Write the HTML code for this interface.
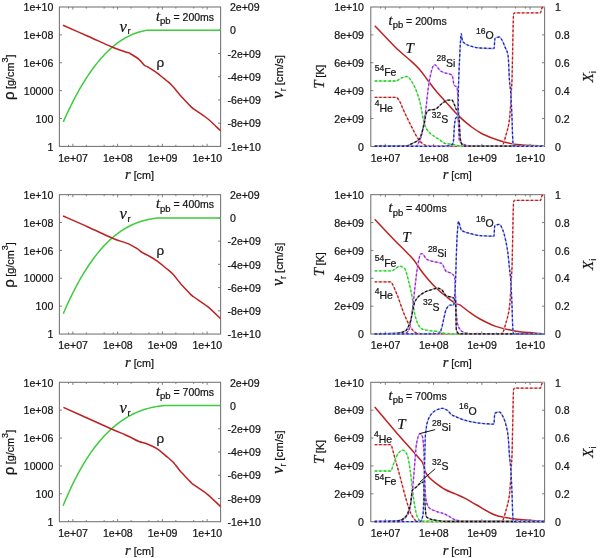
<!DOCTYPE html>
<html><head><meta charset="utf-8"><style>
html,body{margin:0;padding:0;background:#fff;}
svg{display:block;}
#wrap{will-change:transform;width:600px;height:558px;background:#fff;}
text{stroke:#151515;stroke-width:0.22px;}
</style></head><body><div id="wrap">
<svg width="600" height="558" viewBox="0 0 600 558">
<g>
<rect width="600" height="558" fill="#fff"/>
<rect x="59.40" y="7.00" width="161.20" height="139.40" fill="none" stroke="#727272" stroke-width="1.05"/>
<path d="M68.53,146.40v-1.6M68.53,7.00v1.6" stroke="#727272" stroke-width="0.9"/>
<path d="M72.87,146.40v-2.6M72.87,7.00v2.6" stroke="#727272" stroke-width="0.9"/>
<path d="M86.34,146.40v-1.6M86.34,7.00v1.6" stroke="#727272" stroke-width="0.9"/>
<path d="M104.15,146.40v-1.6M104.15,7.00v1.6" stroke="#727272" stroke-width="0.9"/>
<path d="M113.29,146.40v-1.6M113.29,7.00v1.6" stroke="#727272" stroke-width="0.9"/>
<path d="M117.62,146.40v-2.6M117.62,7.00v2.6" stroke="#727272" stroke-width="0.9"/>
<path d="M131.10,146.40v-1.6M131.10,7.00v1.6" stroke="#727272" stroke-width="0.9"/>
<path d="M148.90,146.40v-1.6M148.90,7.00v1.6" stroke="#727272" stroke-width="0.9"/>
<path d="M158.04,146.40v-1.6M158.04,7.00v1.6" stroke="#727272" stroke-width="0.9"/>
<path d="M162.38,146.40v-2.6M162.38,7.00v2.6" stroke="#727272" stroke-width="0.9"/>
<path d="M175.85,146.40v-1.6M175.85,7.00v1.6" stroke="#727272" stroke-width="0.9"/>
<path d="M193.66,146.40v-1.6M193.66,7.00v1.6" stroke="#727272" stroke-width="0.9"/>
<path d="M202.79,146.40v-1.6M202.79,7.00v1.6" stroke="#727272" stroke-width="0.9"/>
<path d="M207.13,146.40v-2.6M207.13,7.00v2.6" stroke="#727272" stroke-width="0.9"/>
<path d="M59.40,34.88h2.6" stroke="#727272" stroke-width="0.9"/>
<path d="M59.40,62.76h2.6" stroke="#727272" stroke-width="0.9"/>
<path d="M59.40,90.64h2.6" stroke="#727272" stroke-width="0.9"/>
<path d="M59.40,118.52h2.6" stroke="#727272" stroke-width="0.9"/>
<path d="M220.60,30.23h-2.6" stroke="#727272" stroke-width="0.9"/>
<path d="M220.60,53.47h-2.6" stroke="#727272" stroke-width="0.9"/>
<path d="M220.60,76.70h-2.6" stroke="#727272" stroke-width="0.9"/>
<path d="M220.60,99.93h-2.6" stroke="#727272" stroke-width="0.9"/>
<path d="M220.60,123.17h-2.6" stroke="#727272" stroke-width="0.9"/>
<text x="53.30" y="11.20" font-size="10.6" text-anchor="end" font-family='"Liberation Sans", sans-serif' fill="#151515" >1e+10</text>
<text x="53.30" y="39.08" font-size="10.6" text-anchor="end" font-family='"Liberation Sans", sans-serif' fill="#151515" >1e+08</text>
<text x="53.30" y="66.96" font-size="10.6" text-anchor="end" font-family='"Liberation Sans", sans-serif' fill="#151515" >1e+06</text>
<text x="53.30" y="94.84" font-size="10.6" text-anchor="end" font-family='"Liberation Sans", sans-serif' fill="#151515" >10000</text>
<text x="53.30" y="122.72" font-size="10.6" text-anchor="end" font-family='"Liberation Sans", sans-serif' fill="#151515" >100</text>
<text x="53.30" y="150.60" font-size="10.6" text-anchor="end" font-family='"Liberation Sans", sans-serif' fill="#151515" >1</text>
<text x="229.90" y="11.20" font-size="10.6" text-anchor="start" font-family='"Liberation Sans", sans-serif' fill="#151515" >2e+09</text>
<text x="229.90" y="34.43" font-size="10.6" text-anchor="start" font-family='"Liberation Sans", sans-serif' fill="#151515" >0</text>
<text x="227.50" y="57.67" font-size="10.6" text-anchor="start" font-family='"Liberation Sans", sans-serif' fill="#151515" >-2e+09</text>
<text x="227.50" y="80.90" font-size="10.6" text-anchor="start" font-family='"Liberation Sans", sans-serif' fill="#151515" >-4e+09</text>
<text x="227.50" y="104.13" font-size="10.6" text-anchor="start" font-family='"Liberation Sans", sans-serif' fill="#151515" >-6e+09</text>
<text x="227.50" y="127.37" font-size="10.6" text-anchor="start" font-family='"Liberation Sans", sans-serif' fill="#151515" >-8e+09</text>
<text x="227.50" y="150.60" font-size="10.6" text-anchor="start" font-family='"Liberation Sans", sans-serif' fill="#151515" >-1e+10</text>
<text x="73.07" y="161.60" font-size="10.6" text-anchor="middle" font-family='"Liberation Sans", sans-serif' fill="#151515" >1e+07</text>
<text x="117.82" y="161.60" font-size="10.6" text-anchor="middle" font-family='"Liberation Sans", sans-serif' fill="#151515" >1e+08</text>
<text x="162.58" y="161.60" font-size="10.6" text-anchor="middle" font-family='"Liberation Sans", sans-serif' fill="#151515" >1e+09</text>
<text x="207.33" y="161.60" font-size="10.6" text-anchor="middle" font-family='"Liberation Sans", sans-serif' fill="#151515" >1e+10</text>
<text x="139.50" y="179.20" text-anchor="middle" fill="#151515"><tspan font-family='"Liberation Serif", serif' font-style="italic" font-size="14.5">r</tspan><tspan font-family='"Liberation Sans", sans-serif' font-size="10.8" dx="3">[cm]</tspan></text>
<path d="M63.30,121.90 L64.30,119.65 L65.30,117.42 L66.30,115.23 L67.30,113.08 L68.30,110.96 L69.30,108.87 L70.30,106.81 L71.30,104.79 L72.30,102.79 L73.30,100.83 L74.30,98.90 L75.30,97.01 L76.30,95.14 L77.30,93.31 L78.30,91.50 L79.30,89.73 L80.30,87.99 L81.30,86.28 L82.30,84.59 L83.30,82.94 L84.30,81.32 L85.30,79.73 L86.30,78.16 L87.30,76.63 L88.30,75.12 L89.30,73.65 L90.30,72.20 L91.30,70.78 L92.30,69.39 L93.30,68.03 L94.30,66.69 L95.30,65.38 L96.30,64.10 L97.30,62.85 L98.30,61.62 L99.30,60.42 L100.30,59.25 L101.30,58.10 L102.30,56.98 L103.30,55.88 L104.30,54.81 L105.30,53.77 L106.30,52.75 L107.30,51.75 L108.30,50.79 L109.30,49.84 L110.30,48.92 L111.30,48.02 L112.30,47.15 L113.30,46.31 L114.30,45.48 L115.30,44.68 L116.30,43.90 L117.30,43.15 L118.30,42.42 L119.30,41.71 L120.30,41.02 L121.30,40.36 L122.30,39.71 L123.30,39.09 L124.30,38.49 L125.30,37.92 L126.30,37.36 L127.30,36.83 L128.30,36.31 L129.30,35.82 L130.30,35.34 L131.30,34.89 L132.30,34.46 L133.30,34.04 L134.30,33.65 L135.30,33.27 L136.30,32.92 L137.30,32.58 L138.30,32.26 L139.30,31.96 L140.30,31.68 L141.30,31.42 L142.30,31.18 L143.30,30.95 L144.30,30.74 L145.30,30.55 L146.30,30.37 L147.30,30.25 L148.30,30.25 L149.30,30.25 L150.30,30.25 L151.30,30.25 L152.30,30.25 L153.30,30.25 L154.30,30.25 L155.30,30.25 L156.30,30.25 L157.30,30.25 L158.30,30.25 L159.30,30.25 L160.30,30.25 L161.30,30.25 L162.30,30.25 L163.30,30.25 L164.30,30.25 L165.30,30.25 L166.30,30.25 L167.30,30.25 L168.30,30.25 L169.30,30.25 L170.00,30.25 L220.60,30.25" fill="none" stroke="#3ccc3c" stroke-width="1.5"/>
<path d="M63.00,25.30 C67.17,27.12 79.75,32.55 88.00,36.20 C96.25,39.85 105.92,44.48 112.50,47.20 C119.08,49.92 124.58,51.45 127.50,52.50 C130.42,53.55 128.08,52.37 130.00,53.50 C131.92,54.63 136.62,57.35 139.00,59.30 C141.38,61.25 142.82,63.92 144.30,65.20 C145.78,66.48 145.80,65.73 147.90,67.00 C150.00,68.27 153.92,70.63 156.90,72.80 C159.88,74.97 163.37,77.97 165.80,80.00 C168.23,82.03 169.15,82.52 171.50,85.00 C173.85,87.48 178.15,92.87 179.90,94.90 C181.65,96.93 180.03,95.12 182.00,97.20 C183.97,99.28 189.53,105.30 191.70,107.40 C193.87,109.50 192.38,107.95 195.00,109.80 C197.62,111.65 203.13,115.00 207.40,118.50 C211.67,122.00 218.40,128.75 220.60,130.80" fill="none" stroke="#bd2222" stroke-width="1.5"/>
<text x="156.0" y="20.50" fill="#151515"><tspan font-family='"Liberation Serif", serif' font-style="italic" font-size="14.5">t</tspan><tspan font-family='"Liberation Sans", sans-serif' font-size="9.5" dy="3.4">pb</tspan><tspan font-family='"Liberation Sans", sans-serif' font-size="10.5" dy="-3.4"> = 200ms</tspan></text>
<text x="119.6" y="31.50" fill="#151515"><tspan font-family='"Liberation Serif", serif' font-style="italic" font-size="16.5">v</tspan><tspan font-family='"Liberation Sans", sans-serif' font-size="9.5" dy="2.6" dx="0.6">r</tspan></text>
<text x="156.4" y="67.20" fill="#151515" font-family='"Liberation Sans", sans-serif' font-size="13.5">ρ</text>
<text transform="translate(13.8,77.30) rotate(-90)" text-anchor="middle" fill="#151515"><tspan font-family='"Liberation Sans", sans-serif' font-size="15">ρ</tspan><tspan font-family='"Liberation Sans", sans-serif' font-size="10.8" dx="2.5">[g/cm</tspan><tspan font-family='"Liberation Sans", sans-serif' font-size="9" dy="-5.5">3</tspan><tspan font-family='"Liberation Sans", sans-serif' font-size="10.8" dy="5.5">]</tspan></text>
<text transform="translate(283.4,76.70) rotate(-90)" text-anchor="middle" fill="#151515"><tspan font-family='"Liberation Serif", serif' font-style="italic" font-size="16">v</tspan><tspan font-family='"Liberation Sans", sans-serif' font-size="9.5" dy="2.6">r</tspan><tspan font-family='"Liberation Sans", sans-serif' font-size="11.4" dy="-2.6" dx="2.8">[cm/s]</tspan></text>
<rect x="59.40" y="194.65" width="161.20" height="139.40" fill="none" stroke="#727272" stroke-width="1.05"/>
<path d="M68.53,334.05v-1.6M68.53,194.65v1.6" stroke="#727272" stroke-width="0.9"/>
<path d="M72.87,334.05v-2.6M72.87,194.65v2.6" stroke="#727272" stroke-width="0.9"/>
<path d="M86.34,334.05v-1.6M86.34,194.65v1.6" stroke="#727272" stroke-width="0.9"/>
<path d="M104.15,334.05v-1.6M104.15,194.65v1.6" stroke="#727272" stroke-width="0.9"/>
<path d="M113.29,334.05v-1.6M113.29,194.65v1.6" stroke="#727272" stroke-width="0.9"/>
<path d="M117.62,334.05v-2.6M117.62,194.65v2.6" stroke="#727272" stroke-width="0.9"/>
<path d="M131.10,334.05v-1.6M131.10,194.65v1.6" stroke="#727272" stroke-width="0.9"/>
<path d="M148.90,334.05v-1.6M148.90,194.65v1.6" stroke="#727272" stroke-width="0.9"/>
<path d="M158.04,334.05v-1.6M158.04,194.65v1.6" stroke="#727272" stroke-width="0.9"/>
<path d="M162.38,334.05v-2.6M162.38,194.65v2.6" stroke="#727272" stroke-width="0.9"/>
<path d="M175.85,334.05v-1.6M175.85,194.65v1.6" stroke="#727272" stroke-width="0.9"/>
<path d="M193.66,334.05v-1.6M193.66,194.65v1.6" stroke="#727272" stroke-width="0.9"/>
<path d="M202.79,334.05v-1.6M202.79,194.65v1.6" stroke="#727272" stroke-width="0.9"/>
<path d="M207.13,334.05v-2.6M207.13,194.65v2.6" stroke="#727272" stroke-width="0.9"/>
<path d="M59.40,222.53h2.6" stroke="#727272" stroke-width="0.9"/>
<path d="M59.40,250.41h2.6" stroke="#727272" stroke-width="0.9"/>
<path d="M59.40,278.29h2.6" stroke="#727272" stroke-width="0.9"/>
<path d="M59.40,306.17h2.6" stroke="#727272" stroke-width="0.9"/>
<path d="M220.60,217.88h-2.6" stroke="#727272" stroke-width="0.9"/>
<path d="M220.60,241.12h-2.6" stroke="#727272" stroke-width="0.9"/>
<path d="M220.60,264.35h-2.6" stroke="#727272" stroke-width="0.9"/>
<path d="M220.60,287.58h-2.6" stroke="#727272" stroke-width="0.9"/>
<path d="M220.60,310.82h-2.6" stroke="#727272" stroke-width="0.9"/>
<text x="53.30" y="198.85" font-size="10.6" text-anchor="end" font-family='"Liberation Sans", sans-serif' fill="#151515" >1e+10</text>
<text x="53.30" y="226.73" font-size="10.6" text-anchor="end" font-family='"Liberation Sans", sans-serif' fill="#151515" >1e+08</text>
<text x="53.30" y="254.61" font-size="10.6" text-anchor="end" font-family='"Liberation Sans", sans-serif' fill="#151515" >1e+06</text>
<text x="53.30" y="282.49" font-size="10.6" text-anchor="end" font-family='"Liberation Sans", sans-serif' fill="#151515" >10000</text>
<text x="53.30" y="310.37" font-size="10.6" text-anchor="end" font-family='"Liberation Sans", sans-serif' fill="#151515" >100</text>
<text x="53.30" y="338.25" font-size="10.6" text-anchor="end" font-family='"Liberation Sans", sans-serif' fill="#151515" >1</text>
<text x="229.90" y="198.85" font-size="10.6" text-anchor="start" font-family='"Liberation Sans", sans-serif' fill="#151515" >2e+09</text>
<text x="229.90" y="222.08" font-size="10.6" text-anchor="start" font-family='"Liberation Sans", sans-serif' fill="#151515" >0</text>
<text x="227.50" y="245.32" font-size="10.6" text-anchor="start" font-family='"Liberation Sans", sans-serif' fill="#151515" >-2e+09</text>
<text x="227.50" y="268.55" font-size="10.6" text-anchor="start" font-family='"Liberation Sans", sans-serif' fill="#151515" >-4e+09</text>
<text x="227.50" y="291.78" font-size="10.6" text-anchor="start" font-family='"Liberation Sans", sans-serif' fill="#151515" >-6e+09</text>
<text x="227.50" y="315.02" font-size="10.6" text-anchor="start" font-family='"Liberation Sans", sans-serif' fill="#151515" >-8e+09</text>
<text x="227.50" y="338.25" font-size="10.6" text-anchor="start" font-family='"Liberation Sans", sans-serif' fill="#151515" >-1e+10</text>
<text x="73.07" y="349.25" font-size="10.6" text-anchor="middle" font-family='"Liberation Sans", sans-serif' fill="#151515" >1e+07</text>
<text x="117.82" y="349.25" font-size="10.6" text-anchor="middle" font-family='"Liberation Sans", sans-serif' fill="#151515" >1e+08</text>
<text x="162.58" y="349.25" font-size="10.6" text-anchor="middle" font-family='"Liberation Sans", sans-serif' fill="#151515" >1e+09</text>
<text x="207.33" y="349.25" font-size="10.6" text-anchor="middle" font-family='"Liberation Sans", sans-serif' fill="#151515" >1e+10</text>
<text x="139.50" y="366.85" text-anchor="middle" fill="#151515"><tspan font-family='"Liberation Serif", serif' font-style="italic" font-size="14.5">r</tspan><tspan font-family='"Liberation Sans", sans-serif' font-size="10.8" dx="3">[cm]</tspan></text>
<path d="M63.30,313.62 L64.30,311.30 L65.30,309.02 L66.30,306.77 L67.30,304.56 L68.30,302.39 L69.30,300.25 L70.30,298.14 L71.30,296.08 L72.30,294.04 L73.30,292.04 L74.30,290.08 L75.30,288.14 L76.30,286.25 L77.30,284.38 L78.30,282.55 L79.30,280.75 L80.30,278.98 L81.30,277.24 L82.30,275.54 L83.30,273.87 L84.30,272.23 L85.30,270.62 L86.30,269.04 L87.30,267.49 L88.30,265.97 L89.30,264.48 L90.30,263.02 L91.30,261.59 L92.30,260.19 L93.30,258.81 L94.30,257.47 L95.30,256.15 L96.30,254.87 L97.30,253.61 L98.30,252.37 L99.30,251.17 L100.30,249.99 L101.30,248.84 L102.30,247.71 L103.30,246.61 L104.30,245.53 L105.30,244.48 L106.30,243.46 L107.30,242.46 L108.30,241.49 L109.30,240.53 L110.30,239.61 L111.30,238.71 L112.30,237.83 L113.30,236.97 L114.30,236.14 L115.30,235.33 L116.30,234.54 L117.30,233.77 L118.30,233.03 L119.30,232.31 L120.30,231.61 L121.30,230.93 L122.30,230.27 L123.30,229.63 L124.30,229.01 L125.30,228.41 L126.30,227.83 L127.30,227.27 L128.30,226.73 L129.30,226.21 L130.30,225.70 L131.30,225.22 L132.30,224.75 L133.30,224.30 L134.30,223.87 L135.30,223.45 L136.30,223.05 L137.30,222.67 L138.30,222.31 L139.30,221.96 L140.30,221.62 L141.30,221.31 L142.30,221.00 L143.30,220.71 L144.30,220.44 L145.30,220.18 L146.30,219.94 L147.30,219.70 L148.30,219.49 L149.30,219.28 L150.30,219.09 L151.30,218.91 L152.30,218.75 L153.30,218.59 L154.30,218.45 L155.30,218.32 L156.30,218.20 L157.30,218.09 L158.30,217.99 L159.30,217.91 L160.30,217.90 L161.30,217.90 L162.30,217.90 L163.30,217.90 L164.30,217.90 L165.30,217.90 L166.30,217.90 L167.30,217.90 L168.30,217.90 L169.30,217.90 L170.30,217.90 L171.30,217.90 L172.30,217.90 L173.30,217.90 L174.30,217.90 L175.00,217.90 L220.60,217.90" fill="none" stroke="#3ccc3c" stroke-width="1.5"/>
<path d="M63.00,216.00 C67.17,217.82 79.75,223.25 88.00,226.95 C96.25,230.65 106.33,235.58 112.50,238.20 C118.67,240.82 122.08,241.58 125.00,242.65 C127.92,243.72 127.97,243.59 130.00,244.60 C132.03,245.61 135.12,247.35 137.20,248.70 C139.28,250.05 140.72,251.58 142.50,252.70 C144.28,253.82 145.50,254.05 147.90,255.40 C150.30,256.75 153.92,258.70 156.90,260.80 C159.88,262.90 163.12,265.76 165.80,268.00 C168.48,270.24 170.65,271.77 173.00,274.25 C175.35,276.73 178.40,281.03 179.90,282.85 C181.40,284.67 180.03,283.07 182.00,285.15 C183.97,287.23 189.53,293.25 191.70,295.35 C193.87,297.45 192.38,295.90 195.00,297.75 C197.62,299.60 203.13,302.95 207.40,306.45 C211.67,309.95 218.40,316.70 220.60,318.75" fill="none" stroke="#bd2222" stroke-width="1.5"/>
<text x="156.0" y="208.15" fill="#151515"><tspan font-family='"Liberation Serif", serif' font-style="italic" font-size="14.5">t</tspan><tspan font-family='"Liberation Sans", sans-serif' font-size="9.5" dy="3.4">pb</tspan><tspan font-family='"Liberation Sans", sans-serif' font-size="10.5" dy="-3.4"> = 400ms</tspan></text>
<text x="119.6" y="219.15" fill="#151515"><tspan font-family='"Liberation Serif", serif' font-style="italic" font-size="16.5">v</tspan><tspan font-family='"Liberation Sans", sans-serif' font-size="9.5" dy="2.6" dx="0.6">r</tspan></text>
<text x="156.4" y="254.85" fill="#151515" font-family='"Liberation Sans", sans-serif' font-size="13.5">ρ</text>
<text transform="translate(13.8,264.95) rotate(-90)" text-anchor="middle" fill="#151515"><tspan font-family='"Liberation Sans", sans-serif' font-size="15">ρ</tspan><tspan font-family='"Liberation Sans", sans-serif' font-size="10.8" dx="2.5">[g/cm</tspan><tspan font-family='"Liberation Sans", sans-serif' font-size="9" dy="-5.5">3</tspan><tspan font-family='"Liberation Sans", sans-serif' font-size="10.8" dy="5.5">]</tspan></text>
<text transform="translate(283.4,264.35) rotate(-90)" text-anchor="middle" fill="#151515"><tspan font-family='"Liberation Serif", serif' font-style="italic" font-size="16">v</tspan><tspan font-family='"Liberation Sans", sans-serif' font-size="9.5" dy="2.6">r</tspan><tspan font-family='"Liberation Sans", sans-serif' font-size="11.4" dy="-2.6" dx="2.8">[cm/s]</tspan></text>
<rect x="59.40" y="382.30" width="161.20" height="139.40" fill="none" stroke="#727272" stroke-width="1.05"/>
<path d="M68.53,521.70v-1.6M68.53,382.30v1.6" stroke="#727272" stroke-width="0.9"/>
<path d="M72.87,521.70v-2.6M72.87,382.30v2.6" stroke="#727272" stroke-width="0.9"/>
<path d="M86.34,521.70v-1.6M86.34,382.30v1.6" stroke="#727272" stroke-width="0.9"/>
<path d="M104.15,521.70v-1.6M104.15,382.30v1.6" stroke="#727272" stroke-width="0.9"/>
<path d="M113.29,521.70v-1.6M113.29,382.30v1.6" stroke="#727272" stroke-width="0.9"/>
<path d="M117.62,521.70v-2.6M117.62,382.30v2.6" stroke="#727272" stroke-width="0.9"/>
<path d="M131.10,521.70v-1.6M131.10,382.30v1.6" stroke="#727272" stroke-width="0.9"/>
<path d="M148.90,521.70v-1.6M148.90,382.30v1.6" stroke="#727272" stroke-width="0.9"/>
<path d="M158.04,521.70v-1.6M158.04,382.30v1.6" stroke="#727272" stroke-width="0.9"/>
<path d="M162.38,521.70v-2.6M162.38,382.30v2.6" stroke="#727272" stroke-width="0.9"/>
<path d="M175.85,521.70v-1.6M175.85,382.30v1.6" stroke="#727272" stroke-width="0.9"/>
<path d="M193.66,521.70v-1.6M193.66,382.30v1.6" stroke="#727272" stroke-width="0.9"/>
<path d="M202.79,521.70v-1.6M202.79,382.30v1.6" stroke="#727272" stroke-width="0.9"/>
<path d="M207.13,521.70v-2.6M207.13,382.30v2.6" stroke="#727272" stroke-width="0.9"/>
<path d="M59.40,410.18h2.6" stroke="#727272" stroke-width="0.9"/>
<path d="M59.40,438.06h2.6" stroke="#727272" stroke-width="0.9"/>
<path d="M59.40,465.94h2.6" stroke="#727272" stroke-width="0.9"/>
<path d="M59.40,493.82h2.6" stroke="#727272" stroke-width="0.9"/>
<path d="M220.60,405.53h-2.6" stroke="#727272" stroke-width="0.9"/>
<path d="M220.60,428.77h-2.6" stroke="#727272" stroke-width="0.9"/>
<path d="M220.60,452.00h-2.6" stroke="#727272" stroke-width="0.9"/>
<path d="M220.60,475.23h-2.6" stroke="#727272" stroke-width="0.9"/>
<path d="M220.60,498.47h-2.6" stroke="#727272" stroke-width="0.9"/>
<text x="53.30" y="386.50" font-size="10.6" text-anchor="end" font-family='"Liberation Sans", sans-serif' fill="#151515" >1e+10</text>
<text x="53.30" y="414.38" font-size="10.6" text-anchor="end" font-family='"Liberation Sans", sans-serif' fill="#151515" >1e+08</text>
<text x="53.30" y="442.26" font-size="10.6" text-anchor="end" font-family='"Liberation Sans", sans-serif' fill="#151515" >1e+06</text>
<text x="53.30" y="470.14" font-size="10.6" text-anchor="end" font-family='"Liberation Sans", sans-serif' fill="#151515" >10000</text>
<text x="53.30" y="498.02" font-size="10.6" text-anchor="end" font-family='"Liberation Sans", sans-serif' fill="#151515" >100</text>
<text x="53.30" y="525.90" font-size="10.6" text-anchor="end" font-family='"Liberation Sans", sans-serif' fill="#151515" >1</text>
<text x="229.90" y="386.50" font-size="10.6" text-anchor="start" font-family='"Liberation Sans", sans-serif' fill="#151515" >2e+09</text>
<text x="229.90" y="409.73" font-size="10.6" text-anchor="start" font-family='"Liberation Sans", sans-serif' fill="#151515" >0</text>
<text x="227.50" y="432.97" font-size="10.6" text-anchor="start" font-family='"Liberation Sans", sans-serif' fill="#151515" >-2e+09</text>
<text x="227.50" y="456.20" font-size="10.6" text-anchor="start" font-family='"Liberation Sans", sans-serif' fill="#151515" >-4e+09</text>
<text x="227.50" y="479.43" font-size="10.6" text-anchor="start" font-family='"Liberation Sans", sans-serif' fill="#151515" >-6e+09</text>
<text x="227.50" y="502.67" font-size="10.6" text-anchor="start" font-family='"Liberation Sans", sans-serif' fill="#151515" >-8e+09</text>
<text x="227.50" y="525.90" font-size="10.6" text-anchor="start" font-family='"Liberation Sans", sans-serif' fill="#151515" >-1e+10</text>
<text x="73.07" y="536.90" font-size="10.6" text-anchor="middle" font-family='"Liberation Sans", sans-serif' fill="#151515" >1e+07</text>
<text x="117.82" y="536.90" font-size="10.6" text-anchor="middle" font-family='"Liberation Sans", sans-serif' fill="#151515" >1e+08</text>
<text x="162.58" y="536.90" font-size="10.6" text-anchor="middle" font-family='"Liberation Sans", sans-serif' fill="#151515" >1e+09</text>
<text x="207.33" y="536.90" font-size="10.6" text-anchor="middle" font-family='"Liberation Sans", sans-serif' fill="#151515" >1e+10</text>
<text x="139.50" y="554.50" text-anchor="middle" fill="#151515"><tspan font-family='"Liberation Serif", serif' font-style="italic" font-size="14.5">r</tspan><tspan font-family='"Liberation Sans", sans-serif' font-size="10.8" dx="3">[cm]</tspan></text>
<path d="M63.15,505.69 L64.15,503.25 L65.15,500.86 L66.15,498.51 L67.15,496.20 L68.15,493.93 L69.15,491.71 L70.15,489.52 L71.15,487.37 L72.15,485.27 L73.15,483.20 L74.15,481.18 L75.15,479.19 L76.15,477.23 L77.15,475.32 L78.15,473.44 L79.15,471.60 L80.15,469.80 L81.15,468.03 L82.15,466.30 L83.15,464.60 L84.15,462.93 L85.15,461.30 L86.15,459.70 L87.15,458.14 L88.15,456.60 L89.15,455.10 L90.15,453.63 L91.15,452.19 L92.15,450.78 L93.15,449.41 L94.15,448.06 L95.15,446.74 L96.15,445.45 L97.15,444.18 L98.15,442.95 L99.15,441.74 L100.15,440.56 L101.15,439.41 L102.15,438.28 L103.15,437.17 L104.15,436.09 L105.15,435.04 L106.15,434.01 L107.15,433.00 L108.15,432.02 L109.15,431.06 L110.15,430.12 L111.15,429.21 L112.15,428.31 L113.15,427.44 L114.15,426.58 L115.15,425.75 L116.15,424.94 L117.15,424.14 L118.15,423.37 L119.15,422.62 L120.15,421.88 L121.15,421.17 L122.15,420.47 L123.15,419.80 L124.15,419.14 L125.15,418.50 L126.15,417.88 L127.15,417.27 L128.15,416.69 L129.15,416.12 L130.15,415.57 L131.15,415.04 L132.15,414.52 L133.15,414.02 L134.15,413.53 L135.15,413.07 L136.15,412.62 L137.15,412.18 L138.15,411.76 L139.15,411.35 L140.15,410.97 L141.15,410.59 L142.15,410.23 L143.15,409.89 L144.15,409.55 L145.15,409.24 L146.15,408.93 L147.15,408.64 L148.15,408.37 L149.15,408.11 L150.15,407.86 L151.15,407.62 L152.15,407.40 L153.15,407.18 L154.15,406.98 L155.15,406.80 L156.15,406.62 L157.15,406.45 L158.15,406.30 L159.15,406.16 L160.15,406.03 L161.15,405.91 L162.15,405.80 L163.15,405.70 L164.15,405.61 L165.15,405.55 L166.15,405.55 L167.15,405.55 L168.15,405.55 L169.15,405.55 L170.15,405.55 L171.15,405.55 L172.15,405.55 L173.15,405.55 L174.15,405.55 L175.15,405.55 L176.15,405.55 L177.15,405.55 L178.00,405.55 L220.60,405.55" fill="none" stroke="#3ccc3c" stroke-width="1.5"/>
<path d="M63.40,407.40 C68.08,409.50 83.48,416.40 91.50,420.00 C99.52,423.60 105.92,426.55 111.50,429.00 C117.08,431.45 121.92,433.37 125.00,434.70 C128.08,436.03 127.67,435.87 130.00,437.00 C132.33,438.13 136.02,440.30 139.00,441.50 C141.98,442.70 144.92,443.00 147.90,444.20 C150.88,445.40 153.92,446.77 156.90,448.70 C159.88,450.63 163.12,453.57 165.80,455.80 C168.48,458.03 170.65,459.62 173.00,462.10 C175.35,464.58 178.40,468.88 179.90,470.70 C181.40,472.52 180.03,470.92 182.00,473.00 C183.97,475.08 189.53,481.10 191.70,483.20 C193.87,485.30 192.38,483.75 195.00,485.60 C197.62,487.45 203.13,490.80 207.40,494.30 C211.67,497.80 218.40,504.55 220.60,506.60" fill="none" stroke="#bd2222" stroke-width="1.5"/>
<text x="156.0" y="395.80" fill="#151515"><tspan font-family='"Liberation Serif", serif' font-style="italic" font-size="14.5">t</tspan><tspan font-family='"Liberation Sans", sans-serif' font-size="9.5" dy="3.4">pb</tspan><tspan font-family='"Liberation Sans", sans-serif' font-size="10.5" dy="-3.4"> = 700ms</tspan></text>
<text x="119.6" y="413.40" fill="#151515"><tspan font-family='"Liberation Serif", serif' font-style="italic" font-size="16.5">v</tspan><tspan font-family='"Liberation Sans", sans-serif' font-size="9.5" dy="2.6" dx="0.6">r</tspan></text>
<text x="156.4" y="442.50" fill="#151515" font-family='"Liberation Sans", sans-serif' font-size="13.5">ρ</text>
<text transform="translate(13.8,452.60) rotate(-90)" text-anchor="middle" fill="#151515"><tspan font-family='"Liberation Sans", sans-serif' font-size="15">ρ</tspan><tspan font-family='"Liberation Sans", sans-serif' font-size="10.8" dx="2.5">[g/cm</tspan><tspan font-family='"Liberation Sans", sans-serif' font-size="9" dy="-5.5">3</tspan><tspan font-family='"Liberation Sans", sans-serif' font-size="10.8" dy="5.5">]</tspan></text>
<text transform="translate(283.4,452.00) rotate(-90)" text-anchor="middle" fill="#151515"><tspan font-family='"Liberation Serif", serif' font-style="italic" font-size="16">v</tspan><tspan font-family='"Liberation Sans", sans-serif' font-size="9.5" dy="2.6">r</tspan><tspan font-family='"Liberation Sans", sans-serif' font-size="11.4" dy="-2.6" dx="2.8">[cm/s]</tspan></text>
<rect x="370.80" y="7.00" width="173.80" height="139.40" fill="none" stroke="#727272" stroke-width="1.05"/>
<path d="M380.65,146.40v-1.6M380.65,7.00v1.6" stroke="#727272" stroke-width="0.9"/>
<path d="M385.32,146.40v-2.6M385.32,7.00v2.6" stroke="#727272" stroke-width="0.9"/>
<path d="M399.85,146.40v-1.6M399.85,7.00v1.6" stroke="#727272" stroke-width="0.9"/>
<path d="M419.05,146.40v-1.6M419.05,7.00v1.6" stroke="#727272" stroke-width="0.9"/>
<path d="M428.90,146.40v-1.6M428.90,7.00v1.6" stroke="#727272" stroke-width="0.9"/>
<path d="M433.57,146.40v-2.6M433.57,7.00v2.6" stroke="#727272" stroke-width="0.9"/>
<path d="M448.10,146.40v-1.6M448.10,7.00v1.6" stroke="#727272" stroke-width="0.9"/>
<path d="M467.30,146.40v-1.6M467.30,7.00v1.6" stroke="#727272" stroke-width="0.9"/>
<path d="M477.15,146.40v-1.6M477.15,7.00v1.6" stroke="#727272" stroke-width="0.9"/>
<path d="M481.83,146.40v-2.6M481.83,7.00v2.6" stroke="#727272" stroke-width="0.9"/>
<path d="M496.35,146.40v-1.6M496.35,7.00v1.6" stroke="#727272" stroke-width="0.9"/>
<path d="M515.55,146.40v-1.6M515.55,7.00v1.6" stroke="#727272" stroke-width="0.9"/>
<path d="M525.40,146.40v-1.6M525.40,7.00v1.6" stroke="#727272" stroke-width="0.9"/>
<path d="M530.08,146.40v-2.6M530.08,7.00v2.6" stroke="#727272" stroke-width="0.9"/>
<path d="M370.80,34.88h2.6" stroke="#727272" stroke-width="0.9"/>
<path d="M544.60,34.88h-2.6" stroke="#727272" stroke-width="0.9"/>
<path d="M370.80,62.76h2.6" stroke="#727272" stroke-width="0.9"/>
<path d="M544.60,62.76h-2.6" stroke="#727272" stroke-width="0.9"/>
<path d="M370.80,90.64h2.6" stroke="#727272" stroke-width="0.9"/>
<path d="M544.60,90.64h-2.6" stroke="#727272" stroke-width="0.9"/>
<path d="M370.80,118.52h2.6" stroke="#727272" stroke-width="0.9"/>
<path d="M544.60,118.52h-2.6" stroke="#727272" stroke-width="0.9"/>
<text x="364.00" y="11.20" font-size="10.6" text-anchor="end" font-family='"Liberation Sans", sans-serif' fill="#151515" >1e+10</text>
<text x="364.00" y="39.08" font-size="10.6" text-anchor="end" font-family='"Liberation Sans", sans-serif' fill="#151515" >8e+09</text>
<text x="364.00" y="66.96" font-size="10.6" text-anchor="end" font-family='"Liberation Sans", sans-serif' fill="#151515" >6e+09</text>
<text x="364.00" y="94.84" font-size="10.6" text-anchor="end" font-family='"Liberation Sans", sans-serif' fill="#151515" >4e+09</text>
<text x="364.00" y="122.72" font-size="10.6" text-anchor="end" font-family='"Liberation Sans", sans-serif' fill="#151515" >2e+09</text>
<text x="364.00" y="150.60" font-size="10.6" text-anchor="end" font-family='"Liberation Sans", sans-serif' fill="#151515" >0</text>
<text x="555.00" y="11.20" font-size="10.6" text-anchor="start" font-family='"Liberation Sans", sans-serif' fill="#151515" >1</text>
<text x="555.00" y="39.08" font-size="10.6" text-anchor="start" font-family='"Liberation Sans", sans-serif' fill="#151515" >0.8</text>
<text x="555.00" y="66.96" font-size="10.6" text-anchor="start" font-family='"Liberation Sans", sans-serif' fill="#151515" >0.6</text>
<text x="555.00" y="94.84" font-size="10.6" text-anchor="start" font-family='"Liberation Sans", sans-serif' fill="#151515" >0.4</text>
<text x="555.00" y="122.72" font-size="10.6" text-anchor="start" font-family='"Liberation Sans", sans-serif' fill="#151515" >0.2</text>
<text x="555.00" y="150.60" font-size="10.6" text-anchor="start" font-family='"Liberation Sans", sans-serif' fill="#151515" >0</text>
<text x="385.52" y="161.60" font-size="10.6" text-anchor="middle" font-family='"Liberation Sans", sans-serif' fill="#151515" >1e+07</text>
<text x="433.77" y="161.60" font-size="10.6" text-anchor="middle" font-family='"Liberation Sans", sans-serif' fill="#151515" >1e+08</text>
<text x="482.03" y="161.60" font-size="10.6" text-anchor="middle" font-family='"Liberation Sans", sans-serif' fill="#151515" >1e+09</text>
<text x="530.28" y="161.60" font-size="10.6" text-anchor="middle" font-family='"Liberation Sans", sans-serif' fill="#151515" >1e+10</text>
<text x="457.20" y="179.20" text-anchor="middle" fill="#151515"><tspan font-family='"Liberation Serif", serif' font-style="italic" font-size="14.5">r</tspan><tspan font-family='"Liberation Sans", sans-serif' font-size="10.8" dx="3">[cm]</tspan></text>
<path d="M374.75,25.65 C378.14,29.21 388.99,41.04 395.10,47.00 C401.21,52.96 407.22,57.53 411.40,61.40 C415.58,65.27 417.48,67.07 420.20,70.20 C422.92,73.33 425.20,76.90 427.70,80.20 C430.20,83.50 432.28,86.48 435.20,90.00 C438.12,93.52 441.30,96.98 445.20,101.30 C449.10,105.62 454.33,111.72 458.60,115.90 C462.87,120.08 466.82,123.38 470.80,126.40 C474.78,129.42 477.63,131.60 482.50,134.00 C487.37,136.40 494.30,139.07 500.00,140.80 C505.70,142.53 509.27,143.52 516.70,144.40 C524.13,145.28 539.95,145.82 544.60,146.10" fill="none" stroke="#bd2222" stroke-width="1.5"/>
<path d="M374.75,97.40 C378.38,97.40 395.89,97.40 396.50,97.40 C397.11,97.40 398.92,100.07 400.00,102.00 C401.08,103.93 401.50,105.50 403.00,109.00 C404.50,112.50 409.02,121.70 411.50,126.60 C413.98,131.50 415.75,135.37 417.90,138.40 C420.05,141.43 422.72,144.10 424.40,144.80 C426.08,145.50 427.37,146.20 428.00,146.20 C428.63,146.20 499.56,146.20 500.00,146.20 C500.44,146.20 501.45,145.70 502.50,145.20 C503.55,144.70 505.25,137.55 506.30,134.00 C507.35,130.45 508.17,127.47 508.80,123.90 C509.43,120.33 509.68,117.83 510.10,112.60 C510.52,107.37 510.98,97.93 511.30,92.50 C511.62,87.07 511.65,86.25 512.00,80.00 C512.35,73.75 513.10,14.55 513.60,14.00 C514.10,13.45 514.75,12.90 515.00,12.90 C515.25,12.90 540.19,12.90 540.50,12.90 C540.81,12.90 541.62,7.65 542.30,7.50 C542.98,7.35 544.22,7.25 544.60,7.20" fill="none" stroke="#f2a8a8" stroke-width="1.3"/>
<path d="M374.75,97.40 C378.38,97.40 395.89,97.40 396.50,97.40 C397.11,97.40 398.92,100.07 400.00,102.00 C401.08,103.93 401.50,105.50 403.00,109.00 C404.50,112.50 409.02,121.70 411.50,126.60 C413.98,131.50 415.75,135.37 417.90,138.40 C420.05,141.43 422.72,144.10 424.40,144.80 C426.08,145.50 427.37,146.20 428.00,146.20 C428.63,146.20 499.56,146.20 500.00,146.20 C500.44,146.20 501.45,145.70 502.50,145.20 C503.55,144.70 505.25,137.55 506.30,134.00 C507.35,130.45 508.17,127.47 508.80,123.90 C509.43,120.33 509.68,117.83 510.10,112.60 C510.52,107.37 510.98,97.93 511.30,92.50 C511.62,87.07 511.65,86.25 512.00,80.00 C512.35,73.75 513.10,14.55 513.60,14.00 C514.10,13.45 514.75,12.90 515.00,12.90 C515.25,12.90 540.19,12.90 540.50,12.90 C540.81,12.90 541.62,7.65 542.30,7.50 C542.98,7.35 544.22,7.25 544.60,7.20" fill="none" stroke="#b81c1c" stroke-width="1.3" stroke-dasharray="2.5,2.0"/>
<path d="M374.75,81.00 C378.38,81.00 395.71,81.00 396.50,81.00 C397.29,81.00 399.27,78.95 401.00,78.20 C402.73,77.45 404.93,76.50 406.90,76.50 C408.87,76.50 410.67,79.90 412.80,83.30 C414.93,86.70 417.90,94.75 419.70,101.00 C421.50,107.25 422.28,115.90 423.60,120.80 C424.92,125.70 425.78,127.97 427.60,130.60 C429.42,133.23 432.53,135.15 434.50,136.60 C436.47,138.05 437.65,138.37 439.40,139.50 C441.15,140.63 442.70,142.85 445.00,143.40 C447.30,143.95 450.70,144.03 453.20,144.50 C455.70,144.97 458.81,146.20 460.00,146.20 C461.19,146.20 530.50,146.20 544.60,146.20" fill="none" stroke="#a8f0a8" stroke-width="1.3"/>
<path d="M374.75,81.00 C378.38,81.00 395.71,81.00 396.50,81.00 C397.29,81.00 399.27,78.95 401.00,78.20 C402.73,77.45 404.93,76.50 406.90,76.50 C408.87,76.50 410.67,79.90 412.80,83.30 C414.93,86.70 417.90,94.75 419.70,101.00 C421.50,107.25 422.28,115.90 423.60,120.80 C424.92,125.70 425.78,127.97 427.60,130.60 C429.42,133.23 432.53,135.15 434.50,136.60 C436.47,138.05 437.65,138.37 439.40,139.50 C441.15,140.63 442.70,142.85 445.00,143.40 C447.30,143.95 450.70,144.03 453.20,144.50 C455.70,144.97 458.81,146.20 460.00,146.20 C461.19,146.20 530.50,146.20 544.60,146.20" fill="none" stroke="#22cc22" stroke-width="1.3" stroke-dasharray="2.5,2.0"/>
<path d="M374.75,146.20 C381.62,146.20 415.30,146.20 416.00,146.20 C416.70,146.20 418.57,143.10 420.00,140.00 C421.43,136.90 423.00,128.90 424.60,118.80 C426.20,108.70 427.95,86.80 429.60,79.40 C431.25,72.00 432.53,64.60 434.50,64.60 C436.47,64.60 438.45,69.68 441.40,71.50 C444.35,73.32 451.20,73.50 452.20,75.50 C453.20,77.50 453.38,84.30 454.20,85.30 C455.02,86.30 456.50,86.30 457.10,87.30 C457.70,88.30 457.90,111.05 458.30,120.00 C458.70,128.95 458.90,139.40 459.50,141.00 C460.10,142.60 461.55,143.33 463.30,144.20 C465.05,145.07 468.83,146.20 470.00,146.20 C471.17,146.20 532.17,146.20 544.60,146.20" fill="none" stroke="#d8a8f4" stroke-width="1.3"/>
<path d="M374.75,146.20 C381.62,146.20 415.30,146.20 416.00,146.20 C416.70,146.20 418.57,143.10 420.00,140.00 C421.43,136.90 423.00,128.90 424.60,118.80 C426.20,108.70 427.95,86.80 429.60,79.40 C431.25,72.00 432.53,64.60 434.50,64.60 C436.47,64.60 438.45,69.68 441.40,71.50 C444.35,73.32 451.20,73.50 452.20,75.50 C453.20,77.50 453.38,84.30 454.20,85.30 C455.02,86.30 456.50,86.30 457.10,87.30 C457.70,88.30 457.90,111.05 458.30,120.00 C458.70,128.95 458.90,139.40 459.50,141.00 C460.10,142.60 461.55,143.33 463.30,144.20 C465.05,145.07 468.83,146.20 470.00,146.20 C471.17,146.20 532.17,146.20 544.60,146.20" fill="none" stroke="#9922dd" stroke-width="1.3" stroke-dasharray="2.5,2.0"/>
<path d="M374.75,146.20 C379.79,146.17 401.75,146.10 405.00,146.00 C408.25,145.90 409.17,144.88 411.50,143.80 C413.83,142.72 416.95,141.65 419.00,139.50 C421.05,137.35 422.55,129.98 423.80,125.50 C425.05,121.02 425.52,113.95 426.50,112.60 C427.48,111.25 428.33,110.10 429.70,109.90 C431.07,109.70 432.70,109.70 434.70,109.50 C436.70,109.30 439.57,105.25 441.70,103.70 C443.83,102.15 446.89,100.20 447.50,100.20 C448.11,100.20 451.80,100.20 452.20,100.20 C452.60,100.20 453.82,103.25 454.50,104.80 C455.18,106.35 455.72,109.20 456.30,109.50 C456.88,109.80 457.52,109.80 458.00,110.10 C458.48,110.40 458.82,115.23 459.20,120.00 C459.58,124.77 459.82,135.80 460.30,138.70 C460.78,141.60 461.32,143.65 462.10,144.50 C462.88,145.35 464.49,146.20 465.00,146.20 C465.51,146.20 531.33,146.20 544.60,146.20" fill="none" stroke="#909090" stroke-width="1.3"/>
<path d="M374.75,146.20 C379.79,146.17 401.75,146.10 405.00,146.00 C408.25,145.90 409.17,144.88 411.50,143.80 C413.83,142.72 416.95,141.65 419.00,139.50 C421.05,137.35 422.55,129.98 423.80,125.50 C425.05,121.02 425.52,113.95 426.50,112.60 C427.48,111.25 428.33,110.10 429.70,109.90 C431.07,109.70 432.70,109.70 434.70,109.50 C436.70,109.30 439.57,105.25 441.70,103.70 C443.83,102.15 446.89,100.20 447.50,100.20 C448.11,100.20 451.80,100.20 452.20,100.20 C452.60,100.20 453.82,103.25 454.50,104.80 C455.18,106.35 455.72,109.20 456.30,109.50 C456.88,109.80 457.52,109.80 458.00,110.10 C458.48,110.40 458.82,115.23 459.20,120.00 C459.58,124.77 459.82,135.80 460.30,138.70 C460.78,141.60 461.32,143.65 462.10,144.50 C462.88,145.35 464.49,146.20 465.00,146.20 C465.51,146.20 531.33,146.20 544.60,146.20" fill="none" stroke="#111111" stroke-width="1.3" stroke-dasharray="2.5,2.0"/>
<path d="M374.75,146.30 C385.96,146.30 440.60,146.30 442.00,146.30 C443.40,146.30 448.50,145.90 450.00,145.50 C451.50,145.10 452.25,144.50 453.00,143.50 C453.75,142.50 454.08,128.25 454.50,125.00 C454.92,121.75 455.08,119.25 455.50,118.50 C455.92,117.75 456.55,117.00 457.00,117.00 C457.45,117.00 458.10,119.00 458.20,119.00 C458.30,119.00 458.30,101.03 458.40,91.70 C458.50,82.37 458.93,72.68 459.40,63.00 C459.87,53.32 460.68,33.60 461.20,33.60 C461.72,33.60 461.87,39.75 462.50,41.00 C463.13,42.25 463.75,42.67 465.00,43.50 C466.25,44.33 467.50,45.25 470.00,46.00 C472.50,46.75 476.00,47.75 480.00,48.00 C484.00,48.25 493.50,48.50 494.00,48.50 C494.50,48.50 494.50,39.25 495.00,38.50 C495.50,37.75 497.83,37.00 499.00,37.00 C500.17,37.00 501.00,38.50 502.00,40.00 C503.00,41.50 504.00,44.50 505.00,47.00 C506.00,49.50 507.30,51.00 508.00,55.00 C508.70,59.00 508.95,73.75 509.40,80.00 C509.85,86.25 510.27,86.25 510.70,92.50 C511.13,98.75 511.70,110.27 512.00,117.60 C512.30,124.93 512.40,132.15 512.60,136.50 C512.80,140.85 512.97,144.65 513.20,145.20 C513.43,145.75 513.86,146.30 514.00,146.30 C514.14,146.30 539.50,146.30 544.60,146.30" fill="none" stroke="#a0a8f0" stroke-width="1.3"/>
<path d="M374.75,146.30 C385.96,146.30 440.60,146.30 442.00,146.30 C443.40,146.30 448.50,145.90 450.00,145.50 C451.50,145.10 452.25,144.50 453.00,143.50 C453.75,142.50 454.08,128.25 454.50,125.00 C454.92,121.75 455.08,119.25 455.50,118.50 C455.92,117.75 456.55,117.00 457.00,117.00 C457.45,117.00 458.10,119.00 458.20,119.00 C458.30,119.00 458.30,101.03 458.40,91.70 C458.50,82.37 458.93,72.68 459.40,63.00 C459.87,53.32 460.68,33.60 461.20,33.60 C461.72,33.60 461.87,39.75 462.50,41.00 C463.13,42.25 463.75,42.67 465.00,43.50 C466.25,44.33 467.50,45.25 470.00,46.00 C472.50,46.75 476.00,47.75 480.00,48.00 C484.00,48.25 493.50,48.50 494.00,48.50 C494.50,48.50 494.50,39.25 495.00,38.50 C495.50,37.75 497.83,37.00 499.00,37.00 C500.17,37.00 501.00,38.50 502.00,40.00 C503.00,41.50 504.00,44.50 505.00,47.00 C506.00,49.50 507.30,51.00 508.00,55.00 C508.70,59.00 508.95,73.75 509.40,80.00 C509.85,86.25 510.27,86.25 510.70,92.50 C511.13,98.75 511.70,110.27 512.00,117.60 C512.30,124.93 512.40,132.15 512.60,136.50 C512.80,140.85 512.97,144.65 513.20,145.20 C513.43,145.75 513.86,146.30 514.00,146.30 C514.14,146.30 539.50,146.30 544.60,146.30" fill="none" stroke="#1a28b0" stroke-width="1.3" stroke-dasharray="2.5,2.0"/>
<text x="405.60" y="53.40" fill="#151515" font-family='"Liberation Serif", serif' font-style="italic" font-size="15">T</text>
<text x="374.70" y="75.80" fill="#151515" font-family='"Liberation Sans", sans-serif'><tspan font-size="8.5" dy="-5.3">54</tspan><tspan font-size="10.5" dy="5.3">Fe</tspan></text>
<text x="374.70" y="111.60" fill="#151515" font-family='"Liberation Sans", sans-serif'><tspan font-size="8.5" dy="-5.3">4</tspan><tspan font-size="10.5" dy="5.3">He</tspan></text>
<text x="431.70" y="122.80" fill="#151515" font-family='"Liberation Sans", sans-serif'><tspan font-size="8.5" dy="-5.3">32</tspan><tspan font-size="10.5" dy="5.3">S</tspan></text>
<text x="436.50" y="66.60" fill="#151515" font-family='"Liberation Sans", sans-serif'><tspan font-size="8.5" dy="-5.3">28</tspan><tspan font-size="10.5" dy="5.3">Si</tspan></text>
<text x="476.00" y="39.40" fill="#151515" font-family='"Liberation Sans", sans-serif'><tspan font-size="8.5" dy="-5.3">16</tspan><tspan font-size="10.5" dy="5.3">O</tspan></text>
<text x="388.6" y="24.70" fill="#151515"><tspan font-family='"Liberation Serif", serif' font-style="italic" font-size="14.5">t</tspan><tspan font-family='"Liberation Sans", sans-serif' font-size="9.5" dy="3.4">pb</tspan><tspan font-family='"Liberation Sans", sans-serif' font-size="10.5" dy="-3.4"> = 200ms</tspan></text>
<text transform="translate(324.2,76.70) rotate(-90)" text-anchor="middle" fill="#151515"><tspan font-family='"Liberation Serif", serif' font-style="italic" font-size="15">T</tspan><tspan font-family='"Liberation Sans", sans-serif' font-size="10.8" dx="2.5">[K]</tspan></text>
<text transform="translate(593.2,76.70) rotate(-90)" text-anchor="middle" fill="#151515"><tspan font-family='"Liberation Serif", serif' font-style="italic" font-size="15">X</tspan><tspan font-family='"Liberation Sans", sans-serif' font-size="9.5" dy="3">i</tspan></text>
<rect x="370.80" y="194.65" width="173.80" height="139.40" fill="none" stroke="#727272" stroke-width="1.05"/>
<path d="M380.65,334.05v-1.6M380.65,194.65v1.6" stroke="#727272" stroke-width="0.9"/>
<path d="M385.32,334.05v-2.6M385.32,194.65v2.6" stroke="#727272" stroke-width="0.9"/>
<path d="M399.85,334.05v-1.6M399.85,194.65v1.6" stroke="#727272" stroke-width="0.9"/>
<path d="M419.05,334.05v-1.6M419.05,194.65v1.6" stroke="#727272" stroke-width="0.9"/>
<path d="M428.90,334.05v-1.6M428.90,194.65v1.6" stroke="#727272" stroke-width="0.9"/>
<path d="M433.57,334.05v-2.6M433.57,194.65v2.6" stroke="#727272" stroke-width="0.9"/>
<path d="M448.10,334.05v-1.6M448.10,194.65v1.6" stroke="#727272" stroke-width="0.9"/>
<path d="M467.30,334.05v-1.6M467.30,194.65v1.6" stroke="#727272" stroke-width="0.9"/>
<path d="M477.15,334.05v-1.6M477.15,194.65v1.6" stroke="#727272" stroke-width="0.9"/>
<path d="M481.83,334.05v-2.6M481.83,194.65v2.6" stroke="#727272" stroke-width="0.9"/>
<path d="M496.35,334.05v-1.6M496.35,194.65v1.6" stroke="#727272" stroke-width="0.9"/>
<path d="M515.55,334.05v-1.6M515.55,194.65v1.6" stroke="#727272" stroke-width="0.9"/>
<path d="M525.40,334.05v-1.6M525.40,194.65v1.6" stroke="#727272" stroke-width="0.9"/>
<path d="M530.08,334.05v-2.6M530.08,194.65v2.6" stroke="#727272" stroke-width="0.9"/>
<path d="M370.80,222.53h2.6" stroke="#727272" stroke-width="0.9"/>
<path d="M544.60,222.53h-2.6" stroke="#727272" stroke-width="0.9"/>
<path d="M370.80,250.41h2.6" stroke="#727272" stroke-width="0.9"/>
<path d="M544.60,250.41h-2.6" stroke="#727272" stroke-width="0.9"/>
<path d="M370.80,278.29h2.6" stroke="#727272" stroke-width="0.9"/>
<path d="M544.60,278.29h-2.6" stroke="#727272" stroke-width="0.9"/>
<path d="M370.80,306.17h2.6" stroke="#727272" stroke-width="0.9"/>
<path d="M544.60,306.17h-2.6" stroke="#727272" stroke-width="0.9"/>
<text x="364.00" y="198.85" font-size="10.6" text-anchor="end" font-family='"Liberation Sans", sans-serif' fill="#151515" >1e+10</text>
<text x="364.00" y="226.73" font-size="10.6" text-anchor="end" font-family='"Liberation Sans", sans-serif' fill="#151515" >8e+09</text>
<text x="364.00" y="254.61" font-size="10.6" text-anchor="end" font-family='"Liberation Sans", sans-serif' fill="#151515" >6e+09</text>
<text x="364.00" y="282.49" font-size="10.6" text-anchor="end" font-family='"Liberation Sans", sans-serif' fill="#151515" >4e+09</text>
<text x="364.00" y="310.37" font-size="10.6" text-anchor="end" font-family='"Liberation Sans", sans-serif' fill="#151515" >2e+09</text>
<text x="364.00" y="338.25" font-size="10.6" text-anchor="end" font-family='"Liberation Sans", sans-serif' fill="#151515" >0</text>
<text x="555.00" y="198.85" font-size="10.6" text-anchor="start" font-family='"Liberation Sans", sans-serif' fill="#151515" >1</text>
<text x="555.00" y="226.73" font-size="10.6" text-anchor="start" font-family='"Liberation Sans", sans-serif' fill="#151515" >0.8</text>
<text x="555.00" y="254.61" font-size="10.6" text-anchor="start" font-family='"Liberation Sans", sans-serif' fill="#151515" >0.6</text>
<text x="555.00" y="282.49" font-size="10.6" text-anchor="start" font-family='"Liberation Sans", sans-serif' fill="#151515" >0.4</text>
<text x="555.00" y="310.37" font-size="10.6" text-anchor="start" font-family='"Liberation Sans", sans-serif' fill="#151515" >0.2</text>
<text x="555.00" y="338.25" font-size="10.6" text-anchor="start" font-family='"Liberation Sans", sans-serif' fill="#151515" >0</text>
<text x="385.52" y="349.25" font-size="10.6" text-anchor="middle" font-family='"Liberation Sans", sans-serif' fill="#151515" >1e+07</text>
<text x="433.77" y="349.25" font-size="10.6" text-anchor="middle" font-family='"Liberation Sans", sans-serif' fill="#151515" >1e+08</text>
<text x="482.03" y="349.25" font-size="10.6" text-anchor="middle" font-family='"Liberation Sans", sans-serif' fill="#151515" >1e+09</text>
<text x="530.28" y="349.25" font-size="10.6" text-anchor="middle" font-family='"Liberation Sans", sans-serif' fill="#151515" >1e+10</text>
<text x="457.20" y="366.85" text-anchor="middle" fill="#151515"><tspan font-family='"Liberation Serif", serif' font-style="italic" font-size="14.5">r</tspan><tspan font-family='"Liberation Sans", sans-serif' font-size="10.8" dx="3">[cm]</tspan></text>
<path d="M374.70,219.25 C378.08,222.82 389.95,235.42 395.00,240.65 C400.05,245.88 401.87,247.43 405.00,250.65 C408.13,253.88 410.88,256.36 413.80,260.00 C416.72,263.64 418.95,268.00 422.50,272.50 C426.05,277.00 430.92,282.82 435.10,287.00 C439.28,291.18 444.25,294.88 447.60,297.60 C450.95,300.32 453.10,302.03 455.20,303.30 C457.30,304.57 457.70,303.63 460.20,305.20 C462.70,306.77 466.90,310.40 470.20,312.70 C473.50,315.00 475.87,316.76 480.00,319.00 C484.13,321.24 489.43,324.21 495.00,326.15 C500.57,328.09 507.28,329.53 513.40,330.65 C519.52,331.77 526.50,332.32 531.70,332.85 C536.90,333.38 542.45,333.68 544.60,333.85" fill="none" stroke="#bd2222" stroke-width="1.5"/>
<path d="M374.70,281.85 C377.38,281.85 389.66,281.85 390.80,281.85 C391.94,281.85 395.15,290.07 397.30,295.25 C399.45,300.43 401.55,307.72 403.70,312.95 C405.85,318.18 408.32,323.85 410.20,326.65 C412.08,329.45 413.67,331.45 415.00,332.25 C416.33,333.05 417.64,333.85 418.20,333.85 C418.76,333.85 499.56,333.85 500.00,333.85 C500.44,333.85 501.45,333.35 502.50,332.85 C503.55,332.35 505.25,325.20 506.30,321.65 C507.35,318.10 508.17,315.12 508.80,311.55 C509.43,307.98 509.68,305.48 510.10,300.25 C510.52,295.02 510.98,285.58 511.30,280.15 C511.62,274.72 511.65,273.90 512.00,267.65 C512.35,261.40 513.18,202.25 513.60,201.65 C514.02,201.05 514.34,200.45 514.50,200.45 C514.66,200.45 540.19,200.45 540.50,200.45 C540.81,200.45 541.62,195.75 542.30,195.45 C542.98,195.15 544.22,194.95 544.60,194.85" fill="none" stroke="#f2a8a8" stroke-width="1.3"/>
<path d="M374.70,281.85 C377.38,281.85 389.66,281.85 390.80,281.85 C391.94,281.85 395.15,290.07 397.30,295.25 C399.45,300.43 401.55,307.72 403.70,312.95 C405.85,318.18 408.32,323.85 410.20,326.65 C412.08,329.45 413.67,331.45 415.00,332.25 C416.33,333.05 417.64,333.85 418.20,333.85 C418.76,333.85 499.56,333.85 500.00,333.85 C500.44,333.85 501.45,333.35 502.50,332.85 C503.55,332.35 505.25,325.20 506.30,321.65 C507.35,318.10 508.17,315.12 508.80,311.55 C509.43,307.98 509.68,305.48 510.10,300.25 C510.52,295.02 510.98,285.58 511.30,280.15 C511.62,274.72 511.65,273.90 512.00,267.65 C512.35,261.40 513.18,202.25 513.60,201.65 C514.02,201.05 514.34,200.45 514.50,200.45 C514.66,200.45 540.19,200.45 540.50,200.45 C540.81,200.45 541.62,195.75 542.30,195.45 C542.98,195.15 544.22,194.95 544.60,194.85" fill="none" stroke="#b81c1c" stroke-width="1.3" stroke-dasharray="2.5,2.0"/>
<path d="M374.70,270.95 C377.52,270.95 391.01,270.95 391.60,270.95 C392.19,270.95 393.65,269.95 395.00,269.15 C396.35,268.35 398.12,266.15 399.70,266.15 C401.28,266.15 403.03,267.35 404.50,268.55 C405.97,269.75 407.28,276.20 408.50,280.65 C409.72,285.10 410.85,290.13 411.80,295.25 C412.75,300.37 413.27,306.78 414.20,311.35 C415.13,315.92 416.05,319.70 417.40,322.65 C418.75,325.60 420.28,328.25 422.30,329.05 C424.32,329.85 426.68,330.23 429.50,330.65 C432.32,331.07 436.80,331.15 439.20,331.55 C441.60,331.95 442.20,332.67 444.00,333.05 C445.80,333.43 448.95,333.85 450.00,333.85 C451.05,333.85 528.83,333.85 544.60,333.85" fill="none" stroke="#a8f0a8" stroke-width="1.3"/>
<path d="M374.70,270.95 C377.52,270.95 391.01,270.95 391.60,270.95 C392.19,270.95 393.65,269.95 395.00,269.15 C396.35,268.35 398.12,266.15 399.70,266.15 C401.28,266.15 403.03,267.35 404.50,268.55 C405.97,269.75 407.28,276.20 408.50,280.65 C409.72,285.10 410.85,290.13 411.80,295.25 C412.75,300.37 413.27,306.78 414.20,311.35 C415.13,315.92 416.05,319.70 417.40,322.65 C418.75,325.60 420.28,328.25 422.30,329.05 C424.32,329.85 426.68,330.23 429.50,330.65 C432.32,331.07 436.80,331.15 439.20,331.55 C441.60,331.95 442.20,332.67 444.00,333.05 C445.80,333.43 448.95,333.85 450.00,333.85 C451.05,333.85 528.83,333.85 544.60,333.85" fill="none" stroke="#22cc22" stroke-width="1.3" stroke-dasharray="2.5,2.0"/>
<path d="M374.70,333.85 C379.75,333.85 404.39,333.85 405.00,333.85 C405.61,333.85 407.37,332.25 408.50,330.65 C409.63,329.05 410.72,321.82 411.80,314.55 C412.88,307.28 414.07,294.87 415.00,287.05 C415.93,279.23 416.47,273.15 417.40,267.65 C418.33,262.15 419.78,254.25 420.60,254.05 C421.42,253.85 421.45,253.65 422.30,253.65 C423.15,253.65 425.08,258.30 427.10,259.45 C429.12,260.60 431.98,261.08 434.40,261.75 C436.82,262.42 439.67,262.60 441.60,263.45 C443.53,264.30 444.35,270.00 446.00,271.15 C447.65,272.30 450.05,272.38 451.50,273.45 C452.95,274.52 454.25,275.50 454.70,277.55 C455.15,279.60 455.15,290.00 455.60,297.65 C456.05,305.30 456.50,319.85 457.40,323.45 C458.30,327.05 459.42,329.25 461.10,330.65 C462.78,332.05 465.18,333.25 467.50,333.45 C469.82,333.65 473.69,333.85 475.00,333.85 C476.31,333.85 533.00,333.85 544.60,333.85" fill="none" stroke="#d8a8f4" stroke-width="1.3"/>
<path d="M374.70,333.85 C379.75,333.85 404.39,333.85 405.00,333.85 C405.61,333.85 407.37,332.25 408.50,330.65 C409.63,329.05 410.72,321.82 411.80,314.55 C412.88,307.28 414.07,294.87 415.00,287.05 C415.93,279.23 416.47,273.15 417.40,267.65 C418.33,262.15 419.78,254.25 420.60,254.05 C421.42,253.85 421.45,253.65 422.30,253.65 C423.15,253.65 425.08,258.30 427.10,259.45 C429.12,260.60 431.98,261.08 434.40,261.75 C436.82,262.42 439.67,262.60 441.60,263.45 C443.53,264.30 444.35,270.00 446.00,271.15 C447.65,272.30 450.05,272.38 451.50,273.45 C452.95,274.52 454.25,275.50 454.70,277.55 C455.15,279.60 455.15,290.00 455.60,297.65 C456.05,305.30 456.50,319.85 457.40,323.45 C458.30,327.05 459.42,329.25 461.10,330.65 C462.78,332.05 465.18,333.25 467.50,333.45 C469.82,333.65 473.69,333.85 475.00,333.85 C476.31,333.85 533.00,333.85 544.60,333.85" fill="none" stroke="#9922dd" stroke-width="1.3" stroke-dasharray="2.5,2.0"/>
<path d="M374.70,333.85 C378.47,333.75 393.30,333.55 397.30,333.25 C401.30,332.95 403.18,332.05 405.30,330.85 C407.42,329.65 408.38,326.78 410.00,322.70 C411.62,318.63 413.75,303.30 415.00,301.40 C416.25,299.50 416.25,299.07 417.50,297.60 C418.75,296.13 421.70,293.85 423.80,292.60 C425.90,291.35 427.80,290.83 430.10,290.10 C432.40,289.37 435.72,288.20 437.60,288.20 C439.48,288.20 439.93,288.85 441.40,289.50 C442.87,290.15 444.52,294.90 446.40,295.80 C448.28,296.70 451.45,297.08 452.70,297.60 C453.95,298.12 454.90,298.25 455.20,298.90 C455.50,299.55 455.60,305.02 455.80,310.20 C456.00,315.38 456.10,328.07 456.40,330.00 C456.70,331.93 458.55,333.85 459.00,333.85 C459.45,333.85 530.33,333.85 544.60,333.85" fill="none" stroke="#909090" stroke-width="1.3"/>
<path d="M374.70,333.85 C378.47,333.75 393.30,333.55 397.30,333.25 C401.30,332.95 403.18,332.05 405.30,330.85 C407.42,329.65 408.38,326.78 410.00,322.70 C411.62,318.63 413.75,303.30 415.00,301.40 C416.25,299.50 416.25,299.07 417.50,297.60 C418.75,296.13 421.70,293.85 423.80,292.60 C425.90,291.35 427.80,290.83 430.10,290.10 C432.40,289.37 435.72,288.20 437.60,288.20 C439.48,288.20 439.93,288.85 441.40,289.50 C442.87,290.15 444.52,294.90 446.40,295.80 C448.28,296.70 451.45,297.08 452.70,297.60 C453.95,298.12 454.90,298.25 455.20,298.90 C455.50,299.55 455.60,305.02 455.80,310.20 C456.00,315.38 456.10,328.07 456.40,330.00 C456.70,331.93 458.55,333.85 459.00,333.85 C459.45,333.85 530.33,333.85 544.60,333.85" fill="none" stroke="#111111" stroke-width="1.3" stroke-dasharray="2.5,2.0"/>
<path d="M374.70,333.95 C384.37,333.93 429.55,333.90 432.70,333.85 C435.85,333.80 437.75,333.50 439.00,333.15 C440.25,332.80 440.67,330.90 441.50,328.65 C442.33,326.40 443.17,320.98 444.00,317.65 C444.83,314.32 445.50,310.45 446.50,308.65 C447.50,306.85 449.57,305.05 450.00,305.05 C450.43,305.05 453.59,305.05 453.80,305.05 C454.01,305.05 454.43,298.85 455.00,292.65 C455.57,286.45 456.60,241.60 457.20,234.85 C457.80,228.10 457.90,221.35 458.60,221.35 C459.30,221.35 460.10,228.90 461.60,230.25 C463.10,231.60 464.75,232.05 467.90,232.95 C471.05,233.85 476.17,235.35 480.50,235.65 C484.83,235.95 493.45,236.25 493.90,236.25 C494.35,236.25 494.35,226.45 494.80,225.75 C495.25,225.05 497.95,224.35 499.30,224.35 C500.65,224.35 501.57,227.30 502.90,230.25 C504.23,233.20 506.25,242.82 507.30,249.05 C508.35,255.28 508.83,262.47 509.40,267.65 C509.97,272.83 510.27,273.90 510.70,280.15 C511.13,286.40 511.70,297.92 512.00,305.25 C512.30,312.58 512.40,319.80 512.60,324.15 C512.80,328.50 512.97,332.30 513.20,332.85 C513.43,333.40 513.86,333.95 514.00,333.95 C514.14,333.95 539.50,333.95 544.60,333.95" fill="none" stroke="#a0a8f0" stroke-width="1.3"/>
<path d="M374.70,333.95 C384.37,333.93 429.55,333.90 432.70,333.85 C435.85,333.80 437.75,333.50 439.00,333.15 C440.25,332.80 440.67,330.90 441.50,328.65 C442.33,326.40 443.17,320.98 444.00,317.65 C444.83,314.32 445.50,310.45 446.50,308.65 C447.50,306.85 449.57,305.05 450.00,305.05 C450.43,305.05 453.59,305.05 453.80,305.05 C454.01,305.05 454.43,298.85 455.00,292.65 C455.57,286.45 456.60,241.60 457.20,234.85 C457.80,228.10 457.90,221.35 458.60,221.35 C459.30,221.35 460.10,228.90 461.60,230.25 C463.10,231.60 464.75,232.05 467.90,232.95 C471.05,233.85 476.17,235.35 480.50,235.65 C484.83,235.95 493.45,236.25 493.90,236.25 C494.35,236.25 494.35,226.45 494.80,225.75 C495.25,225.05 497.95,224.35 499.30,224.35 C500.65,224.35 501.57,227.30 502.90,230.25 C504.23,233.20 506.25,242.82 507.30,249.05 C508.35,255.28 508.83,262.47 509.40,267.65 C509.97,272.83 510.27,273.90 510.70,280.15 C511.13,286.40 511.70,297.92 512.00,305.25 C512.30,312.58 512.40,319.80 512.60,324.15 C512.80,328.50 512.97,332.30 513.20,332.85 C513.43,333.40 513.86,333.95 514.00,333.95 C514.14,333.95 539.50,333.95 544.60,333.95" fill="none" stroke="#1a28b0" stroke-width="1.3" stroke-dasharray="2.5,2.0"/>
<text x="402.20" y="241.75" fill="#151515" font-family='"Liberation Serif", serif' font-style="italic" font-size="15">T</text>
<text x="374.70" y="266.65" fill="#151515" font-family='"Liberation Sans", sans-serif'><tspan font-size="8.5" dy="-5.3">54</tspan><tspan font-size="10.5" dy="5.3">Fe</tspan></text>
<text x="374.70" y="299.25" fill="#151515" font-family='"Liberation Sans", sans-serif'><tspan font-size="8.5" dy="-5.3">4</tspan><tspan font-size="10.5" dy="5.3">He</tspan></text>
<text x="423.00" y="310.55" fill="#151515" font-family='"Liberation Sans", sans-serif'><tspan font-size="8.5" dy="-5.3">32</tspan><tspan font-size="10.5" dy="5.3">S</tspan></text>
<text x="427.90" y="256.85" fill="#151515" font-family='"Liberation Sans", sans-serif'><tspan font-size="8.5" dy="-5.3">28</tspan><tspan font-size="10.5" dy="5.3">Si</tspan></text>
<text x="476.00" y="227.25" fill="#151515" font-family='"Liberation Sans", sans-serif'><tspan font-size="8.5" dy="-5.3">16</tspan><tspan font-size="10.5" dy="5.3">O</tspan></text>
<text x="388.6" y="212.35" fill="#151515"><tspan font-family='"Liberation Serif", serif' font-style="italic" font-size="14.5">t</tspan><tspan font-family='"Liberation Sans", sans-serif' font-size="9.5" dy="3.4">pb</tspan><tspan font-family='"Liberation Sans", sans-serif' font-size="10.5" dy="-3.4"> = 400ms</tspan></text>
<text transform="translate(324.2,264.35) rotate(-90)" text-anchor="middle" fill="#151515"><tspan font-family='"Liberation Serif", serif' font-style="italic" font-size="15">T</tspan><tspan font-family='"Liberation Sans", sans-serif' font-size="10.8" dx="2.5">[K]</tspan></text>
<text transform="translate(593.2,264.35) rotate(-90)" text-anchor="middle" fill="#151515"><tspan font-family='"Liberation Serif", serif' font-style="italic" font-size="15">X</tspan><tspan font-family='"Liberation Sans", sans-serif' font-size="9.5" dy="3">i</tspan></text>
<rect x="370.80" y="382.30" width="173.80" height="139.40" fill="none" stroke="#727272" stroke-width="1.05"/>
<path d="M380.65,521.70v-1.6M380.65,382.30v1.6" stroke="#727272" stroke-width="0.9"/>
<path d="M385.32,521.70v-2.6M385.32,382.30v2.6" stroke="#727272" stroke-width="0.9"/>
<path d="M399.85,521.70v-1.6M399.85,382.30v1.6" stroke="#727272" stroke-width="0.9"/>
<path d="M419.05,521.70v-1.6M419.05,382.30v1.6" stroke="#727272" stroke-width="0.9"/>
<path d="M428.90,521.70v-1.6M428.90,382.30v1.6" stroke="#727272" stroke-width="0.9"/>
<path d="M433.57,521.70v-2.6M433.57,382.30v2.6" stroke="#727272" stroke-width="0.9"/>
<path d="M448.10,521.70v-1.6M448.10,382.30v1.6" stroke="#727272" stroke-width="0.9"/>
<path d="M467.30,521.70v-1.6M467.30,382.30v1.6" stroke="#727272" stroke-width="0.9"/>
<path d="M477.15,521.70v-1.6M477.15,382.30v1.6" stroke="#727272" stroke-width="0.9"/>
<path d="M481.83,521.70v-2.6M481.83,382.30v2.6" stroke="#727272" stroke-width="0.9"/>
<path d="M496.35,521.70v-1.6M496.35,382.30v1.6" stroke="#727272" stroke-width="0.9"/>
<path d="M515.55,521.70v-1.6M515.55,382.30v1.6" stroke="#727272" stroke-width="0.9"/>
<path d="M525.40,521.70v-1.6M525.40,382.30v1.6" stroke="#727272" stroke-width="0.9"/>
<path d="M530.08,521.70v-2.6M530.08,382.30v2.6" stroke="#727272" stroke-width="0.9"/>
<path d="M370.80,410.18h2.6" stroke="#727272" stroke-width="0.9"/>
<path d="M544.60,410.18h-2.6" stroke="#727272" stroke-width="0.9"/>
<path d="M370.80,438.06h2.6" stroke="#727272" stroke-width="0.9"/>
<path d="M544.60,438.06h-2.6" stroke="#727272" stroke-width="0.9"/>
<path d="M370.80,465.94h2.6" stroke="#727272" stroke-width="0.9"/>
<path d="M544.60,465.94h-2.6" stroke="#727272" stroke-width="0.9"/>
<path d="M370.80,493.82h2.6" stroke="#727272" stroke-width="0.9"/>
<path d="M544.60,493.82h-2.6" stroke="#727272" stroke-width="0.9"/>
<text x="364.00" y="386.50" font-size="10.6" text-anchor="end" font-family='"Liberation Sans", sans-serif' fill="#151515" >1e+10</text>
<text x="364.00" y="414.38" font-size="10.6" text-anchor="end" font-family='"Liberation Sans", sans-serif' fill="#151515" >8e+09</text>
<text x="364.00" y="442.26" font-size="10.6" text-anchor="end" font-family='"Liberation Sans", sans-serif' fill="#151515" >6e+09</text>
<text x="364.00" y="470.14" font-size="10.6" text-anchor="end" font-family='"Liberation Sans", sans-serif' fill="#151515" >4e+09</text>
<text x="364.00" y="498.02" font-size="10.6" text-anchor="end" font-family='"Liberation Sans", sans-serif' fill="#151515" >2e+09</text>
<text x="364.00" y="525.90" font-size="10.6" text-anchor="end" font-family='"Liberation Sans", sans-serif' fill="#151515" >0</text>
<text x="555.00" y="386.50" font-size="10.6" text-anchor="start" font-family='"Liberation Sans", sans-serif' fill="#151515" >1</text>
<text x="555.00" y="414.38" font-size="10.6" text-anchor="start" font-family='"Liberation Sans", sans-serif' fill="#151515" >0.8</text>
<text x="555.00" y="442.26" font-size="10.6" text-anchor="start" font-family='"Liberation Sans", sans-serif' fill="#151515" >0.6</text>
<text x="555.00" y="470.14" font-size="10.6" text-anchor="start" font-family='"Liberation Sans", sans-serif' fill="#151515" >0.4</text>
<text x="555.00" y="498.02" font-size="10.6" text-anchor="start" font-family='"Liberation Sans", sans-serif' fill="#151515" >0.2</text>
<text x="555.00" y="525.90" font-size="10.6" text-anchor="start" font-family='"Liberation Sans", sans-serif' fill="#151515" >0</text>
<text x="385.52" y="536.90" font-size="10.6" text-anchor="middle" font-family='"Liberation Sans", sans-serif' fill="#151515" >1e+07</text>
<text x="433.77" y="536.90" font-size="10.6" text-anchor="middle" font-family='"Liberation Sans", sans-serif' fill="#151515" >1e+08</text>
<text x="482.03" y="536.90" font-size="10.6" text-anchor="middle" font-family='"Liberation Sans", sans-serif' fill="#151515" >1e+09</text>
<text x="530.28" y="536.90" font-size="10.6" text-anchor="middle" font-family='"Liberation Sans", sans-serif' fill="#151515" >1e+10</text>
<text x="457.20" y="554.50" text-anchor="middle" fill="#151515"><tspan font-family='"Liberation Serif", serif' font-style="italic" font-size="14.5">r</tspan><tspan font-family='"Liberation Sans", sans-serif' font-size="10.8" dx="3">[cm]</tspan></text>
<path d="M374.70,406.90 C378.08,410.92 387.97,422.85 395.00,431.00 C402.03,439.15 412.32,450.55 416.90,455.80 C421.48,461.05 421.13,459.92 422.50,462.50 C423.87,465.08 424.05,468.88 425.10,471.30 C426.15,473.72 427.13,475.12 428.80,477.00 C430.47,478.88 432.38,480.52 435.10,482.60 C437.82,484.68 441.75,487.62 445.10,489.50 C448.45,491.38 451.85,492.43 455.20,493.90 C458.55,495.37 461.62,496.45 465.20,498.30 C468.78,500.15 471.73,502.22 476.70,505.00 C481.67,507.78 488.88,512.72 495.00,515.00 C501.12,517.28 505.13,517.62 513.40,518.70 C521.67,519.78 539.40,521.03 544.60,521.50" fill="none" stroke="#bd2222" stroke-width="1.5"/>
<path d="M374.70,444.60 C377.38,444.60 389.96,444.60 390.80,444.60 C391.64,444.60 393.98,454.98 395.60,460.60 C397.22,466.22 398.75,471.85 400.50,478.30 C402.25,484.75 404.35,493.38 406.10,499.30 C407.85,505.22 409.25,510.20 411.00,513.80 C412.75,517.40 415.10,520.75 416.60,521.00 C418.10,521.25 419.41,521.50 420.00,521.50 C420.59,521.50 499.56,521.50 500.00,521.50 C500.44,521.50 501.45,521.00 502.50,520.50 C503.55,520.00 505.25,512.85 506.30,509.30 C507.35,505.75 508.17,502.77 508.80,499.20 C509.43,495.63 509.68,493.13 510.10,487.90 C510.52,482.67 510.98,473.23 511.30,467.80 C511.62,462.37 511.65,461.55 512.00,455.30 C512.35,449.05 513.18,389.90 513.60,389.30 C514.02,388.70 514.34,388.10 514.50,388.10 C514.66,388.10 540.19,388.10 540.50,388.10 C540.81,388.10 541.62,383.40 542.30,383.10 C542.98,382.80 544.22,382.60 544.60,382.50" fill="none" stroke="#f2a8a8" stroke-width="1.3"/>
<path d="M374.70,444.60 C377.38,444.60 389.96,444.60 390.80,444.60 C391.64,444.60 393.98,454.98 395.60,460.60 C397.22,466.22 398.75,471.85 400.50,478.30 C402.25,484.75 404.35,493.38 406.10,499.30 C407.85,505.22 409.25,510.20 411.00,513.80 C412.75,517.40 415.10,520.75 416.60,521.00 C418.10,521.25 419.41,521.50 420.00,521.50 C420.59,521.50 499.56,521.50 500.00,521.50 C500.44,521.50 501.45,521.00 502.50,520.50 C503.55,520.00 505.25,512.85 506.30,509.30 C507.35,505.75 508.17,502.77 508.80,499.20 C509.43,495.63 509.68,493.13 510.10,487.90 C510.52,482.67 510.98,473.23 511.30,467.80 C511.62,462.37 511.65,461.55 512.00,455.30 C512.35,449.05 513.18,389.90 513.60,389.30 C514.02,388.70 514.34,388.10 514.50,388.10 C514.66,388.10 540.19,388.10 540.50,388.10 C540.81,388.10 541.62,383.40 542.30,383.10 C542.98,382.80 544.22,382.60 544.60,382.50" fill="none" stroke="#b81c1c" stroke-width="1.3" stroke-dasharray="2.5,2.0"/>
<path d="M374.70,471.00 C377.38,471.00 390.10,471.00 390.80,471.00 C391.50,471.00 393.45,463.68 394.80,460.60 C396.15,457.52 397.55,453.65 398.90,452.50 C400.25,451.35 401.57,450.20 402.90,450.20 C404.23,450.20 405.68,452.15 406.90,454.10 C408.12,456.05 409.25,464.12 410.20,470.30 C411.15,476.48 411.80,485.02 412.60,491.20 C413.40,497.38 414.20,503.10 415.00,507.40 C415.80,511.70 416.47,515.00 417.40,517.00 C418.33,519.00 419.33,520.75 420.60,521.00 C421.87,521.25 424.23,521.50 425.00,521.50 C425.77,521.50 524.67,521.50 544.60,521.50" fill="none" stroke="#a8f0a8" stroke-width="1.3"/>
<path d="M374.70,471.00 C377.38,471.00 390.10,471.00 390.80,471.00 C391.50,471.00 393.45,463.68 394.80,460.60 C396.15,457.52 397.55,453.65 398.90,452.50 C400.25,451.35 401.57,450.20 402.90,450.20 C404.23,450.20 405.68,452.15 406.90,454.10 C408.12,456.05 409.25,464.12 410.20,470.30 C411.15,476.48 411.80,485.02 412.60,491.20 C413.40,497.38 414.20,503.10 415.00,507.40 C415.80,511.70 416.47,515.00 417.40,517.00 C418.33,519.00 419.33,520.75 420.60,521.00 C421.87,521.25 424.23,521.50 425.00,521.50 C425.77,521.50 524.67,521.50 544.60,521.50" fill="none" stroke="#22cc22" stroke-width="1.3" stroke-dasharray="2.5,2.0"/>
<path d="M374.70,521.50 C378.92,521.50 398.51,521.50 400.00,521.50 C401.49,521.50 406.85,517.40 408.50,513.30 C410.15,509.20 410.85,503.17 411.80,496.00 C412.75,488.83 413.40,479.08 414.20,470.30 C415.00,461.52 415.67,448.15 416.60,443.30 C417.53,438.45 418.85,433.60 419.80,433.60 C420.75,433.60 421.63,434.95 422.30,436.30 C422.97,437.65 423.45,444.63 423.80,450.30 C424.15,455.97 424.22,462.80 424.50,470.30 C424.78,477.80 425.00,489.25 425.50,495.30 C426.00,501.35 427.10,505.20 428.70,507.40 C430.30,509.60 435.05,510.80 437.60,511.80 C440.15,512.80 442.10,513.05 444.00,513.80 C445.90,514.55 447.22,515.33 449.00,516.30 C450.78,517.27 452.23,518.73 454.70,519.60 C457.17,520.47 462.21,521.50 463.80,521.50 C465.39,521.50 531.13,521.50 544.60,521.50" fill="none" stroke="#d8a8f4" stroke-width="1.3"/>
<path d="M374.70,521.50 C378.92,521.50 398.51,521.50 400.00,521.50 C401.49,521.50 406.85,517.40 408.50,513.30 C410.15,509.20 410.85,503.17 411.80,496.00 C412.75,488.83 413.40,479.08 414.20,470.30 C415.00,461.52 415.67,448.15 416.60,443.30 C417.53,438.45 418.85,433.60 419.80,433.60 C420.75,433.60 421.63,434.95 422.30,436.30 C422.97,437.65 423.45,444.63 423.80,450.30 C424.15,455.97 424.22,462.80 424.50,470.30 C424.78,477.80 425.00,489.25 425.50,495.30 C426.00,501.35 427.10,505.20 428.70,507.40 C430.30,509.60 435.05,510.80 437.60,511.80 C440.15,512.80 442.10,513.05 444.00,513.80 C445.90,514.55 447.22,515.33 449.00,516.30 C450.78,517.27 452.23,518.73 454.70,519.60 C457.17,520.47 462.21,521.50 463.80,521.50 C465.39,521.50 531.13,521.50 544.60,521.50" fill="none" stroke="#9922dd" stroke-width="1.3" stroke-dasharray="2.5,2.0"/>
<path d="M374.70,521.50 C378.47,521.42 393.30,521.25 397.30,521.00 C401.30,520.75 403.15,519.00 405.30,517.00 C407.45,515.00 409.05,510.18 410.20,505.70 C411.35,501.22 411.48,491.65 412.50,490.10 C413.52,488.55 415.15,488.03 416.30,487.00 C417.45,485.97 418.47,484.55 419.40,483.90 C420.33,483.25 421.27,482.90 421.90,482.60 C422.53,482.30 422.90,482.00 423.20,482.00 C423.50,482.00 423.50,483.55 423.80,485.10 C424.10,486.65 424.68,499.97 425.10,505.20 C425.52,510.43 425.70,515.25 426.30,516.50 C426.90,517.75 428.63,518.40 430.10,519.00 C431.57,519.60 432.62,519.78 435.10,520.20 C437.58,520.62 443.27,521.50 445.00,521.50 C446.73,521.50 528.00,521.50 544.60,521.50" fill="none" stroke="#909090" stroke-width="1.3"/>
<path d="M374.70,521.50 C378.47,521.42 393.30,521.25 397.30,521.00 C401.30,520.75 403.15,519.00 405.30,517.00 C407.45,515.00 409.05,510.18 410.20,505.70 C411.35,501.22 411.48,491.65 412.50,490.10 C413.52,488.55 415.15,488.03 416.30,487.00 C417.45,485.97 418.47,484.55 419.40,483.90 C420.33,483.25 421.27,482.90 421.90,482.60 C422.53,482.30 422.90,482.00 423.20,482.00 C423.50,482.00 423.50,483.55 423.80,485.10 C424.10,486.65 424.68,499.97 425.10,505.20 C425.52,510.43 425.70,515.25 426.30,516.50 C426.90,517.75 428.63,518.40 430.10,519.00 C431.57,519.60 432.62,519.78 435.10,520.20 C437.58,520.62 443.27,521.50 445.00,521.50 C446.73,521.50 528.00,521.50 544.60,521.50" fill="none" stroke="#111111" stroke-width="1.3" stroke-dasharray="2.5,2.0"/>
<path d="M374.70,521.60 C382.33,521.60 420.06,521.60 420.50,521.60 C420.94,521.60 422.17,518.45 423.00,515.30 C423.83,512.15 424.82,440.15 425.50,434.50 C426.18,428.85 426.30,426.57 427.10,423.20 C427.90,419.83 429.35,416.58 431.10,414.30 C432.85,412.02 435.72,410.10 437.60,409.50 C439.48,408.90 440.78,408.30 442.40,408.30 C444.02,408.30 445.68,409.30 447.30,410.30 C448.92,411.30 450.75,414.40 452.10,415.10 C453.45,415.80 453.75,415.80 455.40,416.50 C457.05,417.20 460.72,419.05 464.30,420.10 C467.88,421.15 471.97,422.12 476.90,422.80 C481.83,423.48 493.45,424.20 493.90,424.20 C494.35,424.20 494.35,414.25 494.80,413.50 C495.25,412.75 497.80,412.00 499.30,412.00 C500.80,412.00 502.32,415.15 503.80,418.30 C505.28,421.45 507.60,430.93 508.20,437.10 C508.80,443.27 508.98,450.18 509.40,455.30 C509.82,460.42 510.27,461.55 510.70,467.80 C511.13,474.05 511.70,485.57 512.00,492.90 C512.30,500.23 512.40,507.45 512.60,511.80 C512.80,516.15 512.97,519.95 513.20,520.50 C513.43,521.05 513.86,521.60 514.00,521.60 C514.14,521.60 539.50,521.60 544.60,521.60" fill="none" stroke="#a0a8f0" stroke-width="1.3"/>
<path d="M374.70,521.60 C382.33,521.60 420.06,521.60 420.50,521.60 C420.94,521.60 422.17,518.45 423.00,515.30 C423.83,512.15 424.82,440.15 425.50,434.50 C426.18,428.85 426.30,426.57 427.10,423.20 C427.90,419.83 429.35,416.58 431.10,414.30 C432.85,412.02 435.72,410.10 437.60,409.50 C439.48,408.90 440.78,408.30 442.40,408.30 C444.02,408.30 445.68,409.30 447.30,410.30 C448.92,411.30 450.75,414.40 452.10,415.10 C453.45,415.80 453.75,415.80 455.40,416.50 C457.05,417.20 460.72,419.05 464.30,420.10 C467.88,421.15 471.97,422.12 476.90,422.80 C481.83,423.48 493.45,424.20 493.90,424.20 C494.35,424.20 494.35,414.25 494.80,413.50 C495.25,412.75 497.80,412.00 499.30,412.00 C500.80,412.00 502.32,415.15 503.80,418.30 C505.28,421.45 507.60,430.93 508.20,437.10 C508.80,443.27 508.98,450.18 509.40,455.30 C509.82,460.42 510.27,461.55 510.70,467.80 C511.13,474.05 511.70,485.57 512.00,492.90 C512.30,500.23 512.40,507.45 512.60,511.80 C512.80,516.15 512.97,519.95 513.20,520.50 C513.43,521.05 513.86,521.60 514.00,521.60 C514.14,521.60 539.50,521.60 544.60,521.60" fill="none" stroke="#1a28b0" stroke-width="1.3" stroke-dasharray="2.5,2.0"/>
<text x="397.20" y="428.70" fill="#151515" font-family='"Liberation Serif", serif' font-style="italic" font-size="15">T</text>
<text x="374.70" y="484.80" fill="#151515" font-family='"Liberation Sans", sans-serif'><tspan font-size="8.5" dy="-5.3">54</tspan><tspan font-size="10.5" dy="5.3">Fe</tspan></text>
<text x="373.90" y="442.60" fill="#151515" font-family='"Liberation Sans", sans-serif'><tspan font-size="8.5" dy="-5.3">4</tspan><tspan font-size="10.5" dy="5.3">He</tspan></text>
<text x="432.00" y="470.30" fill="#151515" font-family='"Liberation Sans", sans-serif'><tspan font-size="8.5" dy="-5.3">32</tspan><tspan font-size="10.5" dy="5.3">S</tspan></text>
<text x="432.00" y="431.20" fill="#151515" font-family='"Liberation Sans", sans-serif'><tspan font-size="8.5" dy="-5.3">28</tspan><tspan font-size="10.5" dy="5.3">Si</tspan></text>
<text x="459.00" y="414.70" fill="#151515" font-family='"Liberation Sans", sans-serif'><tspan font-size="8.5" dy="-5.3">16</tspan><tspan font-size="10.5" dy="5.3">O</tspan></text>
<path d="M419.80,433.60L435.20,429.60" stroke="#111" stroke-width="1"/>
<path d="M420.00,482.00L435.10,468.80" stroke="#111" stroke-width="1"/>
<text x="388.6" y="399.80" fill="#151515"><tspan font-family='"Liberation Serif", serif' font-style="italic" font-size="14.5">t</tspan><tspan font-family='"Liberation Sans", sans-serif' font-size="9.5" dy="3.4">pb</tspan><tspan font-family='"Liberation Sans", sans-serif' font-size="10.5" dy="-3.4"> = 700ms</tspan></text>
<text transform="translate(324.2,452.00) rotate(-90)" text-anchor="middle" fill="#151515"><tspan font-family='"Liberation Serif", serif' font-style="italic" font-size="15">T</tspan><tspan font-family='"Liberation Sans", sans-serif' font-size="10.8" dx="2.5">[K]</tspan></text>
<text transform="translate(593.2,452.00) rotate(-90)" text-anchor="middle" fill="#151515"><tspan font-family='"Liberation Serif", serif' font-style="italic" font-size="15">X</tspan><tspan font-family='"Liberation Sans", sans-serif' font-size="9.5" dy="3">i</tspan></text>
</g>
</svg></div>
</body></html>
